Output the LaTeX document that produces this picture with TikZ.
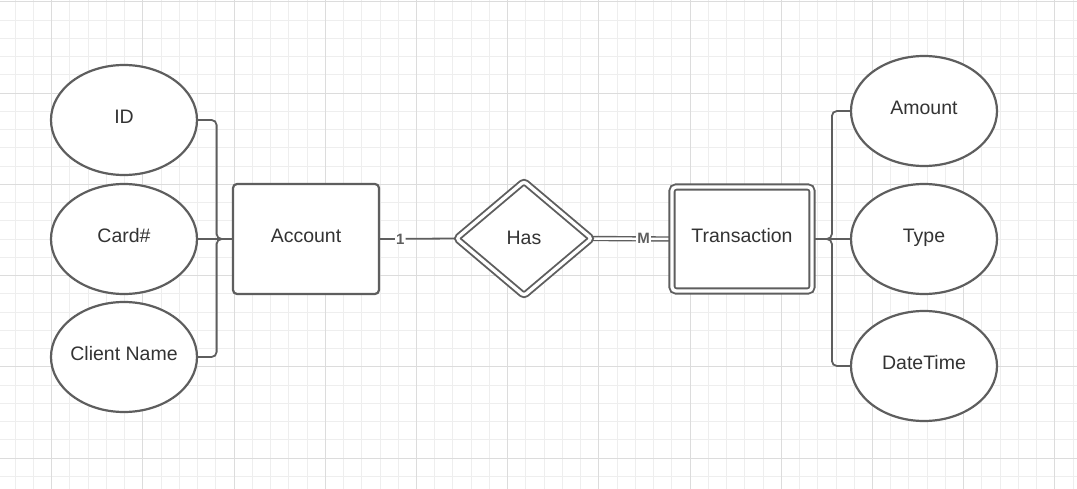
\documentclass[tikz,border=0pt]{standalone}
\usepackage{fontspec}
\setmainfont{Liberation Sans}
\usetikzlibrary{shapes.geometric,backgrounds}
\definecolor{edgec}{HTML}{5E5E5E}
\definecolor{txt}{HTML}{333333}
\definecolor{gridminor}{HTML}{EEEEEE}
\definecolor{gridmajor}{HTML}{DCDCDC}
\begin{document}
\begin{tikzpicture}[x=1pt,y=-1pt,
  every node/.style={font=\fontsize{19.5}{23}\selectfont, text=txt},
  shp/.style={draw=edgec, line width=2.2pt, fill=white, inner sep=0pt, text height=14pt, text depth=7pt},
  attr/.style={shp, ellipse, minimum width=146pt, minimum height=110pt},
  entity/.style={shp, rectangle, rounded corners=4pt, minimum width=146pt, minimum height=110pt},
  weakentity/.style={shp, rectangle, rounded corners=4pt, double, double distance=3.3pt, line width=1.9pt, minimum width=140pt, minimum height=104pt},
  weakrel/.style={shp, diamond, rounded corners=3pt, double, double distance=3.3pt, line width=1.9pt, minimum width=136pt, minimum height=115pt, text depth=1pt},
  conn/.style={draw=edgec, line width=1.8pt, rounded corners=5pt},
  dconn/.style={draw=edgec, double, double distance=2.5pt, line width=1.4pt},
  cardlabel/.style={font=\fontsize{15}{18}\selectfont\bfseries, fill=white, inner sep=1pt, text=edgec},
  gminor/.style={draw=gridminor, line width=1pt},
  gmajor/.style={draw=gridmajor, line width=1pt}
]
\useasboundingbox (0,0) rectangle (1077,489);

% attributes
\node[attr] (id) at (124,120) {ID};
\node[attr] (cardno) at (124,239) {Card\#};
\node[attr] (client) at (124,357) {\makebox[0pt]{Client Name}};
\node[attr] (amount) at (924,111) {Amount};
\node[attr] (type) at (924,239) {Type};
\node[attr] (datetime) at (924,366) {DateTime};

% entities and relationship
\node[entity] (account) at (306,239) {Account};
\node[weakrel] (has) at (524,238.5) {Has};
\node[weakentity] (trans) at (742,239) {Transaction};

\begin{scope}[on background layer]
  \fill[white] (0,0) rectangle (1077,489);
  \foreach \k in {0,...,58} {\draw[gminor] ({15.22+\k*18.24},0) -- ({15.22+\k*18.24},489);}
  \foreach \k in {0,...,26} {\draw[gminor] (0,{2+\k*18.24}) -- (1077,{2+\k*18.24});}
  \foreach \k in {0,...,11} {\draw[gmajor] ({51.7+\k*91.2},0) -- ({51.7+\k*91.2},489);}
  \foreach \k in {0,...,5} {\draw[gmajor] (0,{2+\k*91.2}) -- (1077,{2+\k*91.2});}

  \draw[conn] (id.east) -- ++(18.5,0) |- (account.west);
  \draw[conn] (cardno.east) -- (account.west);
  \draw[conn] (client.east) -- ++(18.5,0) |- (account.west);

  \draw[conn] (amount.west) -- ++(-18,0) |- (trans.east);
  \draw[conn] (type.west) -- (trans.east);
  \draw[conn] (datetime.west) -- ++(-18,0) |- (trans.east);

  \draw[conn] (account.east) -- node[cardlabel, pos=0.27] {1} (has.west);
  \draw[dconn] (has.east) -- node[cardlabel, pos=0.65] {M} (trans.west);
\end{scope}
\end{tikzpicture}
\end{document}
